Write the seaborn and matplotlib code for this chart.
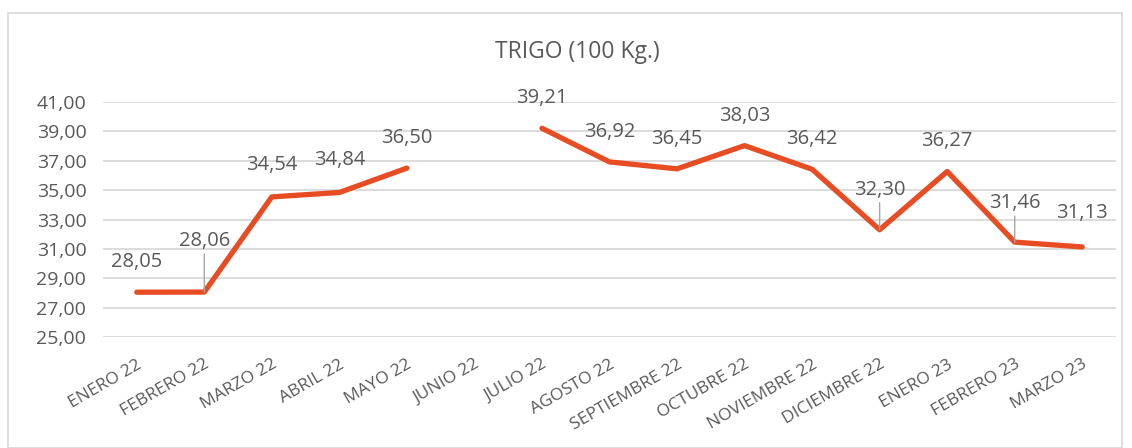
import numpy as np
import pandas as pd
import matplotlib.pyplot as plt
import seaborn as sns
from matplotlib.patches import Rectangle

# Datos
meses = ['ENERO 22', 'FEBRERO 22', 'MARZO 22', 'ABRIL 22', 'MAYO 22', 'JUNIO 22',
         'JULIO 22', 'AGOSTO 22', 'SEPTIEMBRE 22', 'OCTUBRE 22', 'NOVIEMBRE 22',
         'DICIEMBRE 22', 'ENERO 23', 'FEBRERO 23', 'MARZO 23']
precios = [28.05, 28.06, 34.54, 34.84, 36.50, np.nan,
           39.21, 36.92, 36.45, 38.03, 36.42,
           32.30, 36.27, 31.46, 31.13]
y_ticks = [25, 27, 29, 31, 33, 35, 37, 39, 41]

# desplazamiento de etiquetas (px sobre el punto) y si llevan linea guia
label_dy = [30, 51, 32, 32, 30, 0, 30, 30, 30, 30, 30, 40, 30, 39, 34]
leader = [False, True, False, False, False, False, False, False, False,
          False, False, True, False, True, False]

LINE_COLOR = '#E84C22'
TEXT_COLOR = '#595959'
GRID_COLOR = '#D9D9D9'

df = pd.DataFrame({'pos': range(len(meses)), 'precio': precios})
# tramo para no unir a traves del mes sin dato
df['tramo'] = df['precio'].isna().cumsum()
df = df.dropna()

sns.set_theme(style='white')
plt.rcParams['font.family'] = ['Open Sans', 'DejaVu Sans']

fig = plt.figure(figsize=(11.32, 4.48), dpi=100)
fig.patches.append(Rectangle((8 / 1132, 0), 1114 / 1132, 1 - 13 / 448,
                             transform=fig.transFigure, fill=False,
                             edgecolor=GRID_COLOR, linewidth=1.2))
ax = fig.add_axes([103 / 1132, 1 - 337 / 448, 1013 / 1132, 235 / 448])

sns.lineplot(data=df, x='pos', y='precio', units='tramo', estimator=None,
             color=LINE_COLOR, linewidth=3.8, solid_capstyle='round', ax=ax)

ax.set_xlim(-0.5, len(meses) - 0.5)
ax.set_ylim(25, 41)
ax.set_yticks(y_ticks)
ax.set_yticklabels([f'{v:.2f}'.replace('.', ',') for v in y_ticks],
                   fontsize=14, color=TEXT_COLOR)
ax.set_xticks(range(len(meses)))
ax.set_xticklabels(meses, rotation=30, ha='right', rotation_mode='anchor',
                   fontsize=12.5, color=TEXT_COLOR)
ax.tick_params(axis='both', length=0)
ax.tick_params(axis='x', pad=14)
ax.tick_params(axis='y', pad=12)
ax.yaxis.grid(True, color=GRID_COLOR, linewidth=1.3)
ax.set_axisbelow(True)
for s in ax.spines.values():
    s.set_visible(False)
ax.set_xlabel('')
ax.set_ylabel('')

# etiquetas de datos
for i, v in enumerate(precios):
    if np.isnan(v):
        continue
    ax.annotate(f'{v:.2f}'.replace('.', ','), (i, v), xytext=(0, label_dy[i]),
                textcoords='offset pixels', ha='center', va='center',
                fontsize=14.5, color=TEXT_COLOR)
    if leader[i]:
        ax.annotate('', (i, v), xytext=(0, label_dy[i] - 13),
                    textcoords='offset pixels',
                    arrowprops=dict(arrowstyle='-', color='#A6A6A6', lw=1,
                                    shrinkA=0, shrinkB=0))

fig.text(577 / 1132, 1 - 52 / 448, 'TRIGO (100 Kg.)', ha='center', va='center',
         fontsize=16.5, color=TEXT_COLOR)

fig.savefig('out.png', dpi=100)
